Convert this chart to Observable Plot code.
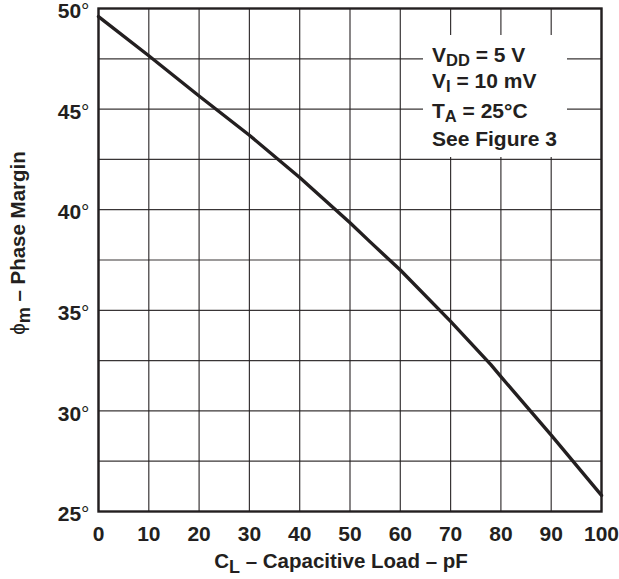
<!DOCTYPE html>
<html><head><meta charset="utf-8">
<script src="https://cdn.jsdelivr.net/npm/d3@7"></script>
<script src="https://cdn.jsdelivr.net/npm/@observablehq/plot@0.6"></script>
<style>
body{margin:0;background:#fff}
#chart svg{display:block;font-family:"Liberation Sans",Arial,sans-serif;font-weight:bold}
</style>
</head><body><div id="chart"></div>
<script>
// Capacitive load (pF) vs phase margin (degrees)
const loadPF   = [0, 10, 20, 30, 40, 50, 54, 60, 70, 78, 80, 90, 100];
const phaseDeg = [49.6, 47.65, 45.65, 43.7, 41.6, 39.35, 38.4, 37.0, 34.45, 32.3, 31.7, 28.8, 25.8];
const xTicks = [0, 10, 20, 30, 40, 50, 60, 70, 80, 90, 100];
const yTicks = [25, 30, 35, 40, 45, 50];
const yGrid  = [27.5, 30, 32.5, 35, 37.5, 40, 42.5, 45, 47.5];
const noteLines = [
  {main: "V", sub: "DD", rest: " = 5 V"},
  {main: "V", sub: "I", rest: " = 10 mV"},
  {main: "T", sub: "A", rest: " = 25°C"},
  {main: "See Figure 3", sub: "", rest: ""}
];

const data = loadPF.map((x, i) => ({x, y: phaseDeg[i]}));
const ink = "#231f20";

const chart = Plot.plot({
  width: 619, height: 579,
  marginLeft: 98, marginRight: 18, marginTop: 8, marginBottom: 68,
  x: {domain: [0, 100]},
  y: {domain: [25, 50]},
  style: {fontFamily: '"Liberation Sans", Arial, sans-serif', fontWeight: "bold", color: ink, background: "#fff"},
  marks: [
    Plot.gridX(xTicks, {stroke: ink, strokeOpacity: 0.9, strokeWidth: 1.2}),
    Plot.gridY(yGrid, {stroke: ink, strokeOpacity: 0.9, strokeWidth: 1.2}),
    Plot.frame({stroke: ink, strokeWidth: 2.4}),
    Plot.line(data, {x: "x", y: "y", stroke: ink, strokeWidth: 3.4, strokeLinejoin: "round"}),
    Plot.axisX({ticks: xTicks, tickSize: 0, tickPadding: 15, fontSize: 21, fill: ink, label: null, tickFormat: d => String(d)}),
    Plot.axisY({ticks: yTicks, tickSize: 0, tickPadding: 9, dy: 3, fontSize: 21, fill: ink, label: null, tickFormat: d => String(d)})
  ]
});

document.getElementById("chart").appendChild(chart);
const svg = d3.select(chart);

// degree marks on y tick labels
svg.selectAll('g[aria-label="y-axis tick label"] text').each(function() {
  d3.select(this).append("tspan").attr("font-weight", "normal").text("°");
});

// white box behind the annotation
svg.append("rect")
  .attr("x", 423).attr("y", 35).attr("width", 144).attr("height", 122)
  .attr("fill", "#fff");

const noteBase = [62, 88, 118, 146];
noteLines.forEach((l, i) => {
  const t = svg.append("text").attr("x", 432).attr("y", noteBase[i])
    .attr("text-anchor", "start")
    .attr("font-size", 21).attr("fill", ink);
  t.append("tspan").text(l.main);
  if (l.sub) t.append("tspan").attr("font-size", 16.5).attr("dy", 4).text(l.sub);
  if (l.rest) t.append("tspan").attr("dy", l.sub ? -4 : 0).text(l.rest);
});

// x-axis label
const xl = svg.append("text").attr("x", 341).attr("y", 568).attr("text-anchor", "middle")
  .attr("font-size", 20.5).attr("fill", ink);
xl.append("tspan").text("C");
xl.append("tspan").attr("font-size", 18).attr("dy", 5).text("L");
xl.append("tspan").attr("dy", -5).text(" – Capacitive Load – pF");

// y-axis label
const yl = svg.append("text").attr("transform", "translate(25,243) rotate(-90)")
  .attr("text-anchor", "middle").attr("font-size", 20.5).attr("fill", ink);
yl.append("tspan").attr("font-weight", "normal").text("ϕ");
yl.append("tspan").attr("font-size", 18).attr("dy", 5).text("m");
yl.append("tspan").attr("dy", -5).text(" – Phase Margin");
</script>
</body></html>
